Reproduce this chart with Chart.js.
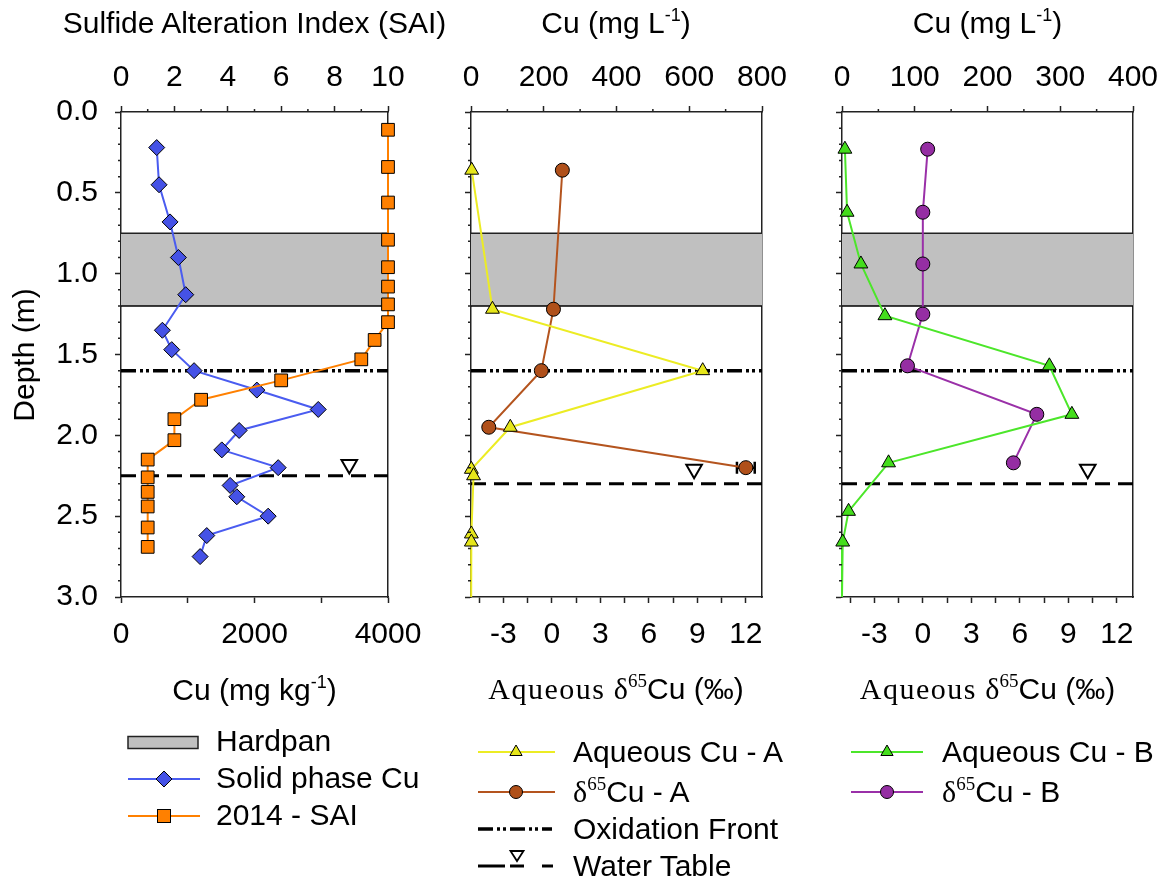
<!DOCTYPE html>
<html>
<head>
<meta charset="utf-8">
<script src="https://cdn.jsdelivr.net/npm/chart.js@4.4.0/dist/chart.umd.min.js"></script>
<style>
  html, body { margin: 0; padding: 0; background: #fff; }
  #page { position: relative; width: 1170px; height: 884px; overflow: hidden;
          font-family: 'Liberation Sans', Arial, Helvetica, sans-serif; color: #000; }
  canvas { position: absolute; left: 0; top: 0; }
  svg { position: absolute; left: 0; top: 0; }
  .t { position: absolute; font-size: 30px; line-height: 30px; white-space: nowrap; }
  .ctr { width: 400px; text-align: center; }
  .serif { font-family: 'Liberation Serif', 'Times New Roman', serif; }
  .sup { font-size: 18px; line-height: 0; position: relative; top: -12px; }
  .ssup { font-family: 'Liberation Serif', 'Times New Roman', serif; font-size: 19px; line-height: 0; position: relative; top: -12px; }
</style>
</head>
<body>
<div id="page">
  <canvas id="solidChart" width="1170" height="884"></canvas>
  <canvas id="siteAChart" width="1170" height="884"></canvas>
  <canvas id="siteBChart" width="1170" height="884"></canvas>

  <!-- axis titles -->
  <div class="t ctr" style="left:54.5px; top:8px;">Sulfide Alteration Index (SAI)</div>
  <div class="t ctr" style="left:416px; top:8px;">Cu (mg L<span class="sup">-1</span>)</div>
  <div class="t ctr" style="left:787.5px; top:8px;">Cu (mg L<span class="sup">-1</span>)</div>
  <div class="t ctr" style="left:54.5px; top:675px;">Cu (mg kg<span class="sup">-1</span>)</div>
  <div class="t ctr" style="left:416px; top:674px;"><span class="serif" style="letter-spacing:1.5px">Aqueous</span> <span class="serif">&#948;</span><span class="ssup">65</span>Cu (&#8240;)</div>
  <div class="t ctr" style="left:787.5px; top:674px;"><span class="serif" style="letter-spacing:1.5px">Aqueous</span> <span class="serif">&#948;</span><span class="ssup">65</span>Cu (&#8240;)</div>
  <div class="t" style="left:-76px; top:339.5px; width:200px; text-align:center; transform:rotate(-90deg);">Depth (m)</div>

  <!-- legend symbols -->
  <svg width="1170" height="884">
    <rect x="128" y="736.5" width="70" height="12" fill="#c0c0c0" stroke="#222" stroke-width="1.5"/>
    <line x1="128" y1="779" x2="200" y2="779" stroke="#4a5cf0" stroke-width="2"/>
    <polygon points="156,779 164,771 172,779 164,787" fill="#4552e6" stroke="#000" stroke-width="1"/>
    <line x1="128" y1="816" x2="200" y2="816" stroke="#ff8000" stroke-width="2"/>
    <rect x="157.5" y="809.5" width="13" height="13" fill="#ff8000" stroke="#000" stroke-width="1"/>

    <line x1="478" y1="752" x2="555" y2="752" stroke="#ecec24" stroke-width="2"/>
    <polygon points="516,745 522.1,755.5 509.9,755.5" fill="#e6e61a" stroke="#000" stroke-width="1"/>
    <line x1="478" y1="792" x2="555" y2="792" stroke="#b4541e" stroke-width="2"/>
    <circle cx="516" cy="792" r="6.5" fill="#b0501a" stroke="#000" stroke-width="1"/>
    <line x1="478" y1="829" x2="552" y2="829" stroke="#000" stroke-width="3.5" stroke-dasharray="15 4 3 3 3 4"/>
    <line x1="478" y1="866" x2="505" y2="866" stroke="#000" stroke-width="3"/>
    <line x1="510" y1="866" x2="524" y2="866" stroke="#000" stroke-width="3"/>
    <line x1="542" y1="866" x2="553" y2="866" stroke="#000" stroke-width="3"/>
    <polygon points="510.5,851 523.5,851 517,861" fill="#fff" stroke="#000" stroke-width="1.8"/>

    <line x1="851" y1="752" x2="923" y2="752" stroke="#4ce62a" stroke-width="2"/>
    <polygon points="887,745 893.1,755.5 880.9,755.5" fill="#44dd1c" stroke="#000" stroke-width="1"/>
    <line x1="851" y1="792" x2="923" y2="792" stroke="#9a30a8" stroke-width="2"/>
    <circle cx="887" cy="792" r="6.5" fill="#952ea3" stroke="#000" stroke-width="1"/>
  </svg>

  <!-- legend text -->
  <div class="t" style="left:216px; top:726px;">Hardpan</div>
  <div class="t" style="left:216px; top:763px;">Solid phase Cu</div>
  <div class="t" style="left:216px; top:800px;">2014 - SAI</div>

  <div class="t" style="left:573px; top:737px;">Aqueous Cu - A</div>
  <div class="t" style="left:573px; top:777px;"><span class="serif">&#948;</span><span class="ssup">65</span>Cu - A</div>
  <div class="t" style="left:573px; top:814px;">Oxidation Front</div>
  <div class="t" style="left:573px; top:851px;">Water Table</div>

  <div class="t" style="left:942px; top:737px;">Aqueous Cu - B</div>
  <div class="t" style="left:942px; top:777px;"><span class="serif">&#948;</span><span class="ssup">65</span>Cu - B</div>
</div>

<script>
// ---------------- data ----------------
// Solid phase Cu (mg/kg) with depth (m)
const solidDepth = [0.22, 0.45, 0.68, 0.90, 1.13, 1.35, 1.47, 1.60, 1.72, 1.84, 1.97, 2.09, 2.20, 2.31, 2.38, 2.50, 2.62, 2.75];
const solidCu    = [535, 570, 735, 860, 970, 620, 760, 1095, 2035, 2955, 1770, 1510, 2355, 1635, 1735, 2205, 1285, 1185];

// 2014 sulfide alteration index
const saiDepth = [0.11, 0.34, 0.56, 0.79, 0.96, 1.08, 1.19, 1.30, 1.41, 1.53, 1.66, 1.78, 1.90, 2.03, 2.15, 2.26, 2.35, 2.44, 2.57, 2.69];
const saiValue = [10, 10, 10, 10, 10, 10, 10, 10, 9.5, 9, 6, 3, 2, 2, 1, 1, 1, 1, 1, 1];

// Profile A: aqueous Cu (mg/L); the last entry carries the line to the base of the plot
const aqADepth = [0.36, 1.22, 1.60, 1.95, 2.21, 2.25, 2.61, 2.66, 3.0];
const aqACu    = [2, 59, 637, 108, 1, 7, 1, 1, 0];
const aqAMarked = 8;

// Profile A: aqueous delta65Cu (permil) and its uncertainty
const d65ADepth = [0.36, 1.22, 1.60, 1.95, 2.20];
const d65AValue = [0.65, 0.1, -0.65, -3.9, 12.0];
const d65AError = [0, 0, 0, 0, 0.55];

// Profile B: aqueous Cu (mg/L); the last entry carries the line to the base of the plot
const aqBDepth = [0.23, 0.62, 0.94, 1.26, 1.57, 1.87, 2.17, 2.47, 2.66, 3.0];
const aqBCu    = [4, 7, 26, 59, 285, 316, 64, 9, 1, 0];
const aqBMarked = 9;

// Profile B: aqueous delta65Cu (permil)
const d65BDepth = [0.23, 0.62, 0.94, 1.25, 1.57, 1.87, 2.17];
const d65BValue = [0.3, 0.0, 0.0, 0.0, -0.95, 7.05, 5.6];

// Horizons (m)
const hardpanDepth = [0.75, 1.2];
const oxidationFrontDepth = 1.6;
const waterTableDepth = [2.25, 2.3, 2.3];         // solid profile, profile A, profile B
const waterTableSymbolX = [3420, 8.8, 10.2];       // on each panel's bottom axis
const waterTableSymbolDepth = [2.18, 2.21, 2.21];

// Axis ticks and labels
const depthTicks = [0, 0.5, 1.0, 1.5, 2.0, 2.5, 3.0];
const saiTicks = [0, 2, 4, 6, 8, 10];
const saiMinor = [1, 3, 5, 7, 9];
const solidCuTicks = [0, 1000, 2000, 3000, 4000];
const solidCuLabels = ['0', '', '2000', '', '4000'];
const aqCuATicks = [0, 200, 400, 600, 800];
const aqCuAMinor = [100, 300, 500, 700];
const aqCuBTicks = [0, 100, 200, 300, 400];
const aqCuBMinor = [50, 150, 250, 350];
const deltaTicks = [-4.5, -3, -1.5, 0, 1.5, 3, 4.5, 6, 7.5, 9, 10.5, 12];
const deltaLabels = ['', '-3', '', '0', '', '3', '', '6', '', '9', '', '12'];

// ---------------- drawing ----------------
const AXIS = '#222';
Chart.defaults.font.family = "'Liberation Sans', Arial, Helvetica, sans-serif";
Chart.defaults.font.size = 30;
Chart.defaults.color = '#000';

const depthMinor = [];
for (let i = 1; i < 30; i++) { if (i % 5 !== 0) depthMinor.push(i / 10); }

const CHART_TOP = 112, CHART_BOTTOM = 597, AXIS_BAND = 60;

function xAxis(position, min, max, ticks, labels, pad) {
  return {
    type: 'linear', position, min, max,
    afterBuildTicks: s => { s.ticks = ticks.map(v => ({ value: v })); },
    afterFit: s => { s.height = AXIS_BAND; s.paddingLeft = 0; s.paddingRight = 0; },
    grid: { display: true, drawOnChartArea: false, drawTicks: true, tickLength: 6, tickWidth: 1.5, tickColor: AXIS },
    border: { display: true, color: AXIS, width: 1.5 },
    ticks: { autoSkip: false, maxRotation: 0, minRotation: 0, padding: pad,
             callback: (v, i) => labels ? labels[i] : String(v) }
  };
}

function yAxis(showLabels) {
  return {
    type: 'linear', position: 'left', min: 0, max: 3, reverse: true,
    afterBuildTicks: s => { s.ticks = depthTicks.map(v => ({ value: v })); },
    afterFit: s => { s.width = showLabels ? 80 : 6; s.paddingTop = 0; s.paddingBottom = 0; },
    grid: { display: true, drawOnChartArea: false, drawTicks: true, tickLength: 6, tickWidth: 1.5, tickColor: AXIS },
    border: { display: true, color: AXIS, width: 1.5 },
    ticks: { display: showLabels, autoSkip: false, padding: 17, callback: v => v.toFixed(1) }
  };
}

function rightFrame() {
  return {
    type: 'linear', position: 'right', min: 0, max: 1, display: true,
    afterFit: s => { s.width = 0; s.paddingTop = 0; s.paddingBottom = 0; },
    grid: { display: true, drawOnChartArea: false, drawTicks: false },
    border: { display: true, color: AXIS, width: 1.5 },
    ticks: { display: false }
  };
}

function series(xID, xs, ys, line, fillColor, style, radius, order, marked) {
  const n = marked === undefined ? xs.length : marked;
  return {
    type: 'line', xAxisID: xID, yAxisID: 'y',
    data: xs.map((x, i) => ({ x, y: ys[i] })),
    borderColor: line, borderWidth: 2,
    pointStyle: style,
    pointRadius: xs.map((_, i) => i < n ? radius : 0),
    pointBackgroundColor: fillColor, pointBorderColor: '#000', pointBorderWidth: 1,
    fill: false, clip: false, order
  };
}

function horizonLine(xID, xmin, xmax, depth, dash, width, order) {
  return {
    type: 'line', xAxisID: xID, yAxisID: 'y',
    data: [{ x: xmin, y: depth }, { x: xmax, y: depth }],
    borderColor: '#000', borderWidth: width, borderDash: dash,
    pointRadius: 0, fill: false, order
  };
}

function hardpan(xID, xmin, xmax) {
  return [{
    type: 'line', xAxisID: xID, yAxisID: 'y',
    data: [{ x: xmin, y: hardpanDepth[0] }, { x: xmax, y: hardpanDepth[0] }],
    borderColor: AXIS, borderWidth: 1.5, backgroundColor: '#c0c0c0',
    fill: { value: hardpanDepth[1] }, pointRadius: 0, order: 20
  }, horizonLine(xID, xmin, xmax, hardpanDepth[1], [], 1.5, 19)];
}

function waterSymbol(xID, k) {
  return {
    type: 'line', xAxisID: xID, yAxisID: 'y', showLine: false,
    data: [{ x: waterTableSymbolX[k], y: waterTableSymbolDepth[k] }],
    pointStyle: 'triangle', rotation: 180, pointRadius: 9,
    pointBackgroundColor: '#fff', pointBorderColor: '#000', pointBorderWidth: 2,
    clip: false, order: 3
  };
}

// Minor tick marks between the labelled ticks
function minorTicks(marks) {
  return {
    id: 'minorTicks',
    afterDraw(chart) {
      const ctx = chart.ctx, a = chart.chartArea;
      ctx.save();
      ctx.strokeStyle = AXIS; ctx.lineWidth = 1.5;
      ctx.beginPath();
      marks.forEach(m => {
        const s = chart.scales[m.axis];
        m.values.forEach(v => {
          const p = s.getPixelForValue(v);
          if (s.position === 'top') { ctx.moveTo(p, a.top); ctx.lineTo(p, a.top - 3); }
          else if (s.position === 'bottom') { ctx.moveTo(p, a.bottom); ctx.lineTo(p, a.bottom + 3); }
          else { ctx.moveTo(a.left, p); ctx.lineTo(a.left - 3, p); }
        });
      });
      ctx.stroke();
      ctx.restore();
    }
  };
}

// Horizontal error bars for datasets that carry an errorX list
const errorBars = {
  id: 'errorBars',
  beforeDatasetsDraw(chart) {
    const ctx = chart.ctx;
    chart.data.datasets.forEach(ds => {
      if (!ds.errorX) return;
      const xs = chart.scales[ds.xAxisID], ys = chart.scales[ds.yAxisID];
      ds.data.forEach((p, i) => {
        const e = ds.errorX[i];
        if (!e) return;
        const x1 = xs.getPixelForValue(p.x - e), x2 = xs.getPixelForValue(p.x + e);
        const y = ys.getPixelForValue(p.y);
        ctx.save();
        ctx.strokeStyle = '#000'; ctx.lineWidth = 2.5;
        ctx.beginPath();
        ctx.moveTo(x1, y); ctx.lineTo(x2, y);
        ctx.moveTo(x1, y - 6); ctx.lineTo(x1, y + 6);
        ctx.moveTo(x2, y - 6); ctx.lineTo(x2, y + 6);
        ctx.stroke();
        ctx.restore();
      });
    });
  }
};

function panel(canvasId, left, right, showY, scales, datasets, marks) {
  const yWidth = showY ? 80 : 6;
  return new Chart(document.getElementById(canvasId), {
    type: 'line',
    data: { datasets },
    options: {
      responsive: false, animation: false, devicePixelRatio: 1, events: [],
      layout: { padding: { left: left - yWidth, right: 1170 - right,
                           top: CHART_TOP - AXIS_BAND, bottom: 884 - CHART_BOTTOM - AXIS_BAND } },
      plugins: { legend: { display: false }, tooltip: { enabled: false } },
      scales: Object.assign({ y: yAxis(showY), yr: rightFrame() }, scales)
    },
    plugins: [minorTicks(marks), errorBars]
  });
}

// Panel 1: solid phase Cu and SAI
panel('solidChart', 121, 388, true,
  { xt: xAxis('top', 0, 10, saiTicks, null, 10),
    xb: xAxis('bottom', 0, 4000, solidCuTicks, solidCuLabels, 14) },
  [
    series('xt', saiValue, saiDepth, '#ff8000', '#ff8000', 'rect', 9, 1),
    series('xb', solidCu, solidDepth, '#4a5cf0', '#4552e6', 'rectRot', 8, 2),
    waterSymbol('xb', 0),
    horizonLine('xb', 0, 4000, waterTableDepth[0], [15, 8], 3, 4),
    horizonLine('xb', 0, 4000, oxidationFrontDepth, [15, 4, 3, 3, 3, 4], 3.5, 5),
    ...hardpan('xb', 0, 4000)
  ],
  [{ axis: 'xt', values: saiMinor }, { axis: 'y', values: depthMinor }]);

// Panel 2: profile A porewater
const dsA = series('xd', d65AValue, d65ADepth, '#b4541e', '#b0501a', 'circle', 7, 2);
dsA.errorX = d65AError;
panel('siteAChart', 471, 762, false,
  { xt: xAxis('top', 0, 800, aqCuATicks, null, 10),
    xd: xAxis('bottom', -5, 13, deltaTicks, deltaLabels, 14) },
  [
    series('xt', aqACu, aqADepth, '#ecec24', '#e6e61a', 'triangle', 8, 1, aqAMarked),
    dsA,
    waterSymbol('xd', 1),
    horizonLine('xd', -5, 13, waterTableDepth[1], [15, 8], 3, 4),
    horizonLine('xd', -5, 13, oxidationFrontDepth, [15, 4, 3, 3, 3, 4], 3.5, 5),
    ...hardpan('xd', -5, 13)
  ],
  [{ axis: 'xt', values: aqCuAMinor }, { axis: 'y', values: depthMinor }]);

// Panel 3: profile B porewater
panel('siteBChart', 842, 1133, false,
  { xt: xAxis('top', 0, 400, aqCuBTicks, null, 10),
    xd: xAxis('bottom', -5, 13, deltaTicks, deltaLabels, 14) },
  [
    series('xt', aqBCu, aqBDepth, '#4ce62a', '#44dd1c', 'triangle', 8, 1, aqBMarked),
    series('xd', d65BValue, d65BDepth, '#9a30a8', '#952ea3', 'circle', 7, 2),
    waterSymbol('xd', 2),
    horizonLine('xd', -5, 13, waterTableDepth[2], [15, 8], 3, 4),
    horizonLine('xd', -5, 13, oxidationFrontDepth, [15, 4, 3, 3, 3, 4], 3.5, 5),
    ...hardpan('xd', -5, 13)
  ],
  [{ axis: 'xt', values: aqCuBMinor }, { axis: 'y', values: depthMinor }]);
</script>
</body>
</html>
